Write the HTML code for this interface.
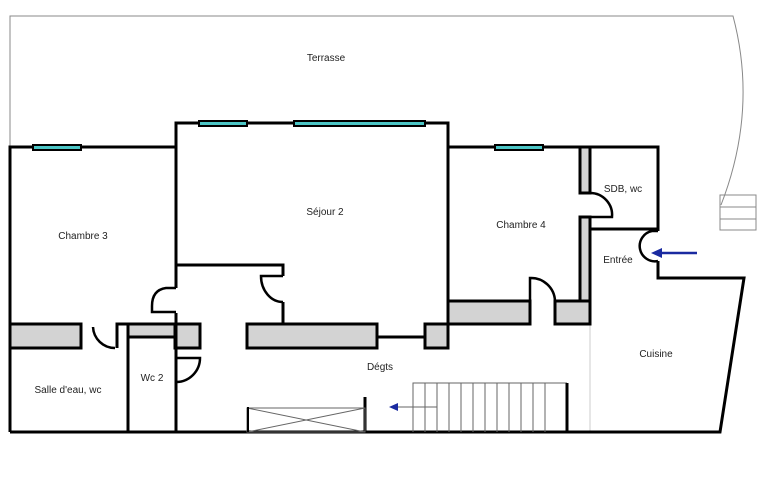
<!DOCTYPE html>
<html><head><meta charset="utf-8"><style>
html,body{margin:0;padding:0;background:#fff;}
svg{display:block}
text{font-family:"Liberation Sans",sans-serif;font-size:10px;fill:#222;text-anchor:middle}
</style></head><body>
<svg width="762" height="478" viewBox="0 0 762 478" xmlns="http://www.w3.org/2000/svg">
<g fill="none" stroke="#888" stroke-width="1">
<path d="M10,146 L10,16 L733,16 Q758,110 721,205"/>
<rect x="720" y="195" width="36" height="35"/>
<line x1="720" y1="207" x2="756" y2="207"/>
<line x1="720" y1="219" x2="756" y2="219"/>
<line x1="590" y1="324" x2="590" y2="432" stroke="#ccc"/>
</g>
<g fill="#d3d3d3" stroke="#000" stroke-width="3">
<rect x="10" y="324" width="71" height="24"/>
<rect x="128" y="324" width="47" height="13"/>
<rect x="175" y="324" width="25" height="24"/>
<rect x="247" y="324" width="130" height="24"/>
<rect x="425" y="324" width="23" height="24"/>
<rect x="448" y="301" width="82" height="23"/>
<rect x="555" y="301" width="35" height="23"/>
<rect x="580" y="147" width="10" height="46"/>
<rect x="580" y="217" width="10" height="84"/>
</g>
<g fill="none" stroke="#000" stroke-width="3" stroke-linejoin="miter">
<path d="M10,432 L10,147 L176,147 L176,123 L448,123 L448,147 L658,147 L658,231"/>
<path d="M658,261 L658,278 L744,278 L720,432 L10,432"/>
<path d="M448,123 L448,324"/>
<path d="M176,147 L176,288"/>
<path d="M176,313 L176,432"/>
<path d="M176,265 L283,265 L283,276"/>
<path d="M283,302 L283,324"/>
<path d="M377,337 L425,337"/>
<path d="M117,348 L117,324 L128,324"/>
<path d="M128,337 L128,432"/>
<path d="M590,229 L658,229"/>
<path d="M365,397 L365,432"/>
<path d="M176,288 L166,288 Q152,290 152,306 L152,312 L176,312" stroke-width="2.5"/>
<path d="M283,276 L261,276 A22,26 0 0 0 283,302" stroke-width="2.5"/>
<path d="M93,327 A22,22 0 0 0 115,348" stroke-width="2.5"/>
<path d="M176,358 L200,358 A24,24 0 0 1 176,382" stroke-width="2.5"/>
<path d="M530,301 L530,278 A24,24 0 0 1 555,301" stroke-width="2.5"/>
<path d="M590,193 A22,22 0 0 1 612,217 L590,217" stroke-width="2.5"/>
<path d="M658,231 L652,231 A15,15 0 0 0 658,261" stroke-width="2.5"/>
</g>
<g fill="#4cc6c6" stroke="#000" stroke-width="2">
<rect x="33" y="145" width="48" height="5"/>
<rect x="199" y="121" width="48" height="5"/>
<rect x="294" y="121" width="131" height="5"/>
<rect x="495" y="145" width="48" height="5"/>
</g>
<g fill="none" stroke="#666" stroke-width="1">
<path d="M413,432 L413,383 L567,383"/>
<line x1="425" y1="383" x2="425" y2="432"/><line x1="437" y1="383" x2="437" y2="432"/>
<line x1="449" y1="383" x2="449" y2="432"/><line x1="461" y1="383" x2="461" y2="432"/>
<line x1="473" y1="383" x2="473" y2="432"/><line x1="485" y1="383" x2="485" y2="432"/>
<line x1="497" y1="383" x2="497" y2="432"/><line x1="509" y1="383" x2="509" y2="432"/>
<line x1="521" y1="383" x2="521" y2="432"/><line x1="533" y1="383" x2="533" y2="432"/>
<line x1="545" y1="383" x2="545" y2="432"/>
<line x1="437" y1="407" x2="396" y2="407"/>
<rect x="247" y="408" width="118" height="24"/>
<line x1="247" y1="432" x2="365" y2="408"/><line x1="247" y1="408" x2="365" y2="432"/>
</g>
<rect x="247" y="407" width="2" height="25" fill="#000"/>
<line x1="567" y1="383" x2="567" y2="432" stroke="#000" stroke-width="3"/>
<polygon points="389,407 398,403 398,411" fill="#1a2aa0"/>
<line x1="697" y1="253" x2="660" y2="253" stroke="#1a2aa0" stroke-width="2.5"/>
<polygon points="651,253 662,248 662,258" fill="#1a2aa0"/>
<text x="326" y="61">Terrasse</text>
<text x="83" y="239">Chambre 3</text>
<text x="325" y="215">Séjour 2</text>
<text x="521" y="228">Chambre 4</text>
<text x="623" y="192">SDB, wc</text>
<text x="618" y="263">Entrée</text>
<text x="656" y="357">Cuisine</text>
<text x="380" y="370">Dégts</text>
<text x="152" y="381">Wc 2</text>
<text x="68" y="393">Salle d'eau, wc</text>
</svg>
</body></html>
